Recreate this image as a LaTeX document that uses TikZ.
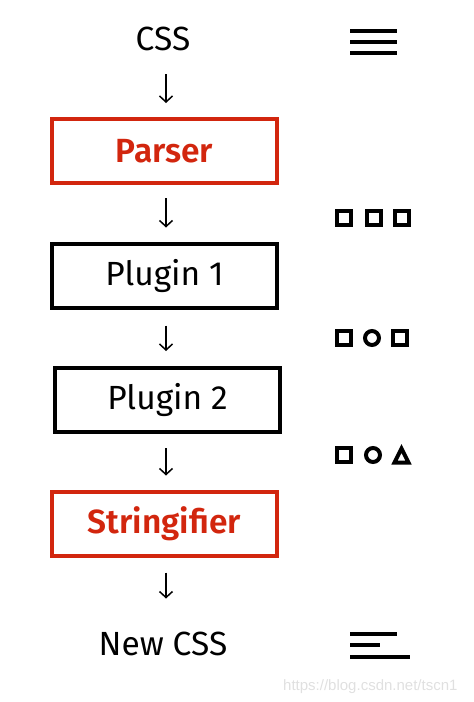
\documentclass[tikz,border=0pt]{standalone}
\usepackage{fontspec}
\setmainfont{Fira Sans}
\newfontfamily\semib{Fira Sans SemiBold}
\newfontfamily\wmfont{Liberation Sans}
\usetikzlibrary{arrows.meta}
\definecolor{pcred}{RGB}{210,38,14}
\tikzset{
  stage/.style={draw, line width=4pt, minimum width=225pt, minimum height=64pt, inner sep=0pt, outer sep=0pt, font=\fontsize{33.5}{38}\selectfont},
  redstage/.style={stage, draw=pcred, text=pcred, font=\semib\fontsize{33.5}{38}\selectfont},
  plain/.style={inner sep=0pt, outer sep=0pt, font=\fontsize{33.5}{38}\selectfont},
  arr/.style={line width=1.5pt, -{Straight Barb[length=6pt,width=13pt]}},
  icon/.style={line width=4pt},
  bar/.style={line width=3.5pt}
}
\begin{document}
\begin{tikzpicture}[x=1pt,y=-1pt]
\useasboundingbox (0,0) rectangle (474,702);
\coordinate (axis) at (166,0);
\node[plain, anchor=base] (css) at (163,50) {CSS};
\node[redstage] (parser) at (164.5,151) {Parser};
\node[stage] (p1) at (164.5,275.5) {Plugin 1};
\node[stage] (p2) at (167.5,400) {Plugin 2};
\node[redstage] (str) at (164.5,523.5) {Stringifier};
\node[plain, anchor=base] (newcss) at (163,655) {New CSS};
\draw[arr, shorten <=24pt, shorten >=16pt] (css.south -| axis) -- (parser.north -| axis);
\draw[arr, shorten <=15pt, shorten >=16pt] (parser.south -| axis) -- (p1.north -| axis);
\draw[arr, shorten <=18pt, shorten >=17pt] (p1.south -| axis) -- (p2.north -| axis);
\draw[arr, shorten <=16pt, shorten >=16pt] (p2.south -| axis) -- (str.north -| axis);
\draw[arr, shorten <=17pt, shorten >=33pt] (str.south -| axis) -- (newcss.north -| axis);
% top lines icon
\draw[bar] (350,31) -- (397,31);
\draw[bar] (350,42) -- (397,42);
\draw[bar] (350,53) -- (397,53);
% row 1
\draw[icon] (337,210.5) rectangle ++(14,14);
\draw[icon] (366.5,210.5) rectangle ++(14,14);
\draw[icon] (395,210.5) rectangle ++(14,14);
% row 2
\draw[icon] (337,331) rectangle ++(14,14);
\draw[icon] (372,338) circle (7);
\draw[icon] (393,331) rectangle ++(14,14);
% row 3
\draw[icon] (337,448) rectangle ++(14,14);
\draw[icon] (373,455) circle (7);
\draw[icon, line join=miter] (401.5,448.5) -- (408.5,462.5) -- (394.5,462.5) -- cycle;
% bottom lines icon
\draw[bar] (350,634) -- (397,634);
\draw[bar] (350,645) -- (380,645);
\draw[bar] (350,657) -- (410,657);
% watermark
\node[anchor=base west, inner sep=0pt, text=black!12, font=\wmfont\fontsize{15}{18}\selectfont] (wm) at (283,690) {https://blog.csdn.net/tscn1};
\end{tikzpicture}
\end{document}
